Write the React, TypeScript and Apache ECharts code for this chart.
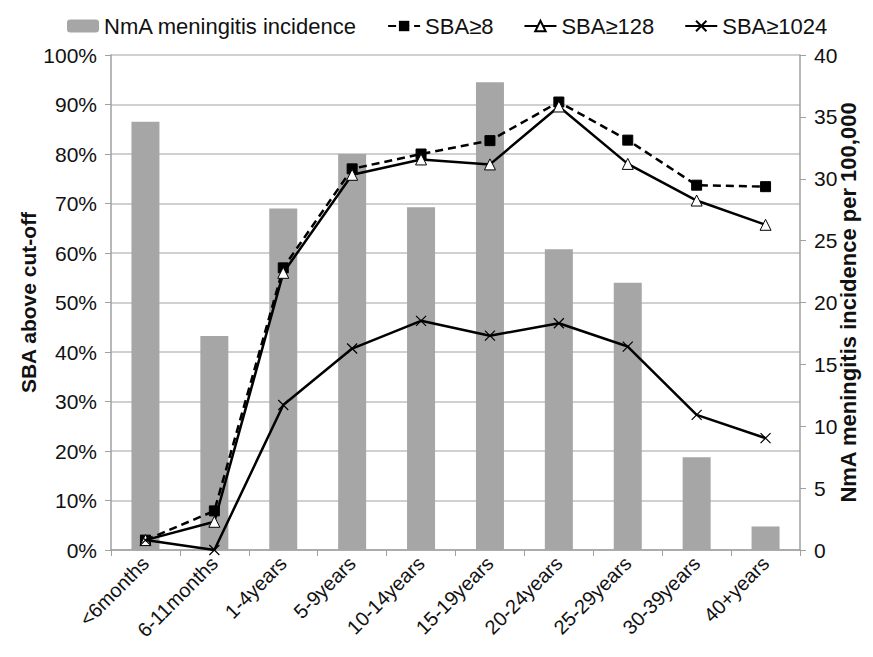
import React, { useEffect, useRef } from "react";
import * as echarts from "echarts";

const categories = ["<6months", "6-11months", "1-4years", "5-9years", "10-14years", "15-19years", "20-24years", "25-29years", "30-39years", "40+years"];
const incidence = [34.6, 17.3, 27.6, 32.0, 27.7, 37.8, 24.3, 21.6, 7.5, 1.9];
const sba8 = [0.02, 0.079, 0.57, 0.77, 0.80, 0.827, 0.905, 0.828, 0.737, 0.734];
const sba128 = [0.02, 0.057, 0.56, 0.758, 0.789, 0.779, 0.896, 0.78, 0.706, 0.657];
const sba1024 = [0.02, 0.0, 0.293, 0.407, 0.463, 0.433, 0.458, 0.411, 0.273, 0.226];

const FONT = "Liberation Sans, Arial, sans-serif";

export default function App() {
  const ref = useRef<HTMLDivElement>(null);
  useEffect(() => {
    if (!ref.current) return;
    const chart = echarts.init(ref.current, null, { renderer: "svg" });
    const crossSymbol = "path://M0,0L10,10M10,0L0,10";
    chart.setOption({
      animation: false,
      textStyle: { fontFamily: FONT },
      legend: {
        top: 2,
        left: 54,
        itemGap: 30,
        itemWidth: 32,
        itemHeight: 13,
        textStyle: { fontSize: 22, color: "#111", fontFamily: FONT },
        data: [
          { name: "NmA meningitis incidence" },
          { name: "SBA≥8" },
          { name: "SBA≥128" },
          { name: "SBA≥1024" },
        ],
      },
      grid: { left: 103, right: 65, top: 47, bottom: 99, containLabel: false, outerBoundsMode: "none" },
      xAxis: {
        type: "category",
        data: categories,
        axisLine: { lineStyle: { color: "#a0a0a0", width: 1.5 } },
        axisTick: { show: true, alignWithLabel: false, length: 6, lineStyle: { color: "#a0a0a0" } },
        axisLabel: { rotate: 45, fontSize: 20, color: "#111", fontFamily: FONT, margin: 10 },
      },
      yAxis: [
        {
          type: "value",
          min: 0,
          max: 1,
          interval: 0.1,
          name: "SBA above cut-off",
          nameLocation: "middle",
          nameGap: 72,
          nameMoveOverlap: false,
          nameTextStyle: { fontSize: 21, fontWeight: "bold", color: "#111", fontFamily: FONT },
          axisLine: { show: true, lineStyle: { color: "#a0a0a0", width: 1.5 } },
          axisTick: { show: true, length: 6, lineStyle: { color: "#a0a0a0" } },
          axisLabel: {
            fontSize: 21,
            color: "#111",
            fontFamily: FONT,
            margin: 14,
            formatter: (v: number) => Math.round(v * 100) + "%",
          },
          splitLine: { lineStyle: { color: "#c0c0c0", width: 1.5 } },
        },
        {
          type: "value",
          min: 0,
          max: 40,
          interval: 5,
          name: "NmA meningitis incidence per 100,000",
          nameLocation: "middle",
          nameGap: 37,
          nameMoveOverlap: false,
          nameRotate: 90,
          nameTextStyle: { fontSize: 22, fontWeight: "bold", color: "#111", fontFamily: FONT },
          axisLine: { show: true, lineStyle: { color: "#a0a0a0", width: 1.5 } },
          axisTick: { show: true, length: 6, lineStyle: { color: "#a0a0a0" } },
          axisLabel: { fontSize: 21, color: "#111", fontFamily: FONT, margin: 14 },
          splitLine: { show: false },
        },
      ],
      series: [
        {
          name: "NmA meningitis incidence",
          type: "bar",
          yAxisIndex: 1,
          data: incidence,
          barWidth: 28,
          itemStyle: { color: "#a6a6a6" },
          z: 1,
        },
        {
          name: "SBA≥8",
          type: "line",
          yAxisIndex: 0,
          data: sba8,
          symbol: "rect",
          symbolSize: 10,
          lineStyle: { color: "#000", width: 2.5, type: [8, 5] },
          itemStyle: { color: "#000", borderColor: "#000" },
          z: 3,
        },
        {
          name: "SBA≥128",
          type: "line",
          yAxisIndex: 0,
          data: sba128,
          symbol: "triangle",
          symbolSize: 11,
          lineStyle: { color: "#000", width: 2.5 },
          itemStyle: { color: "#fff", borderColor: "#000", borderWidth: 1 },
          z: 4,
        },
        {
          name: "SBA≥1024",
          type: "line",
          yAxisIndex: 0,
          data: sba1024,
          symbol: crossSymbol,
          symbolSize: 10,
          lineStyle: { color: "#000", width: 2.5 },
          itemStyle: { color: "none", borderColor: "#000", borderWidth: 1.2 },
          z: 5,
        },
      ],
    });
    return () => chart.dispose();
  }, []);
  return <div ref={ref} style={{ width: 857, height: 641 }} />;
}
